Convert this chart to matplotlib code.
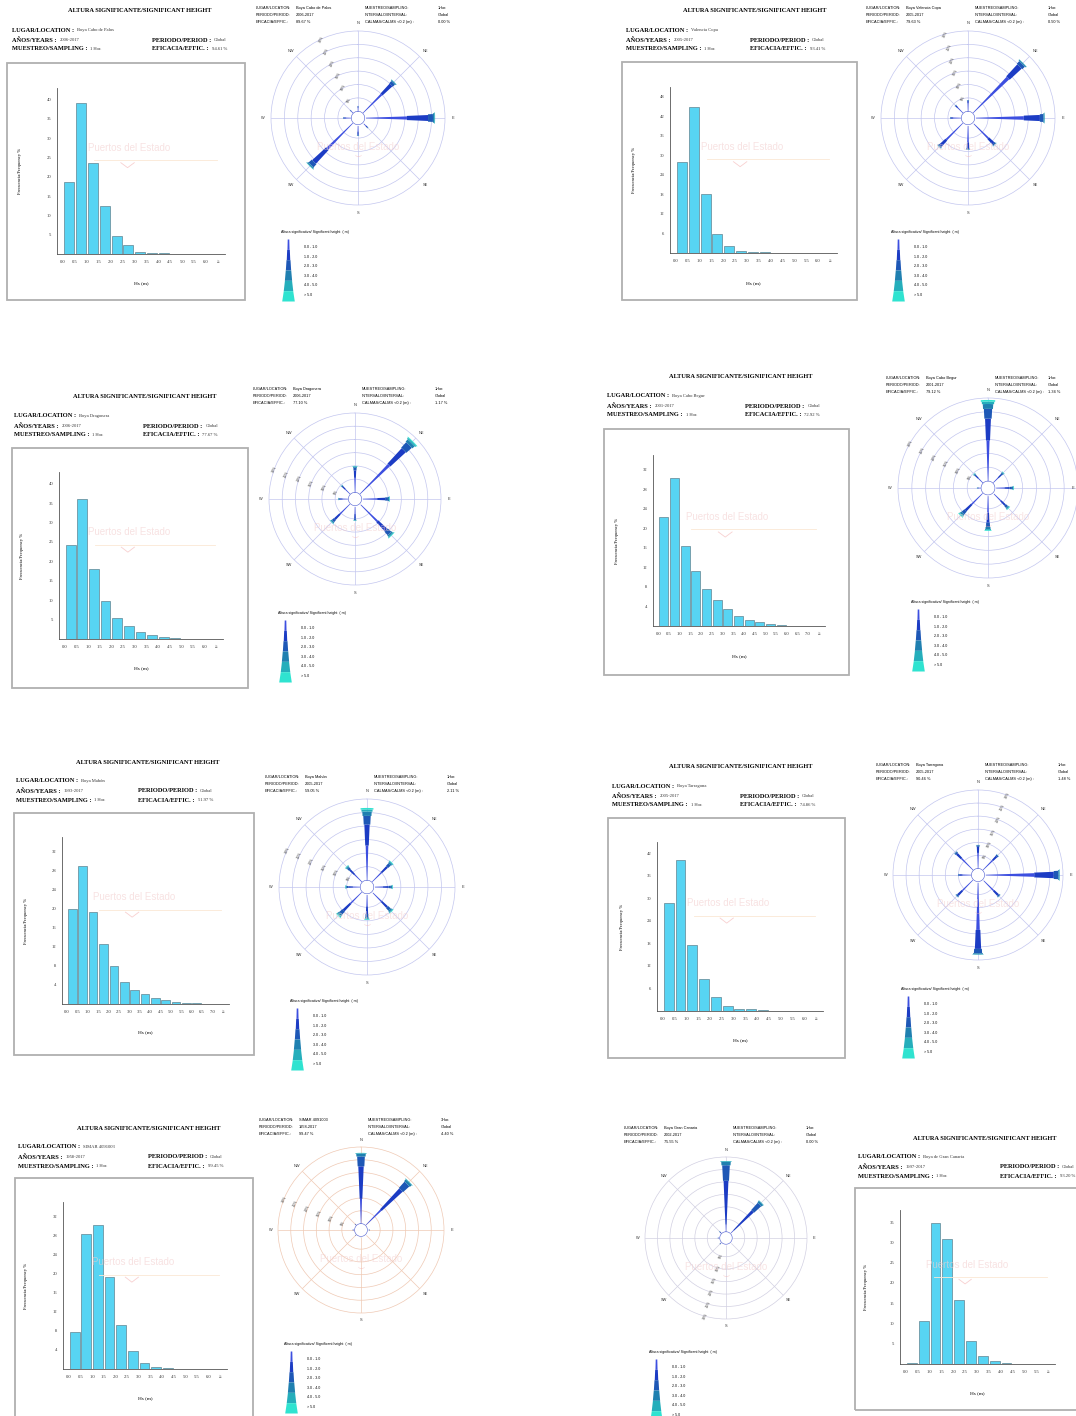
import numpy as np
import matplotlib
matplotlib.use('Agg')
import matplotlib.pyplot as plt
from matplotlib.patches import Rectangle

W, H = 1076, 1416
SERIF = ['Liberation Serif', 'DejaVu Serif']
SANS = ['Liberation Sans', 'DejaVu Sans']

# ---- histogram data: frequency % per 0.5 m Hs bin ----
hist_palos = [18.6, 39.2, 23.5, 12.5, 4.6, 2.3, 0.6, 0.3, 0.15, 0.08, 0.05, 0.03, 0.02]
hist_valencia = [28.0, 45.0, 18.2, 5.9, 2.0, 0.6, 0.4, 0.2, 0.1, 0.05, 0.03, 0.02, 0.01]
hist_dragonera = [24.2, 36.0, 17.9, 9.7, 5.5, 3.3, 1.9, 1.1, 0.5, 0.25, 0.1, 0.05, 0.02]
hist_begur = [22.3, 30.3, 16.4, 11.3, 7.6, 5.4, 3.5, 2.1, 1.3, 0.8, 0.4, 0.2, 0.1, 0.05, 0.02]
hist_mahon = [19.9, 28.9, 19.2, 12.5, 8.0, 4.6, 3.0, 2.0, 1.3, 0.8, 0.4, 0.25, 0.15, 0.1, 0.05]
hist_tarragona = [28.7, 40.3, 17.7, 8.5, 3.7, 1.4, 0.6, 0.4, 0.15, 0.1, 0.05, 0.03, 0.02]
hist_simar = [7.8, 28.2, 30.1, 19.3, 9.2, 3.7, 1.25, 0.4, 0.15, 0.05, 0.03, 0.02, 0.01]
hist_canaria = [0.2, 10.5, 34.9, 30.9, 15.7, 5.7, 2.0, 0.8, 0.3, 0.1, 0.05, 0.02]

edges_60 = ['0.0', '0.5', '1.0', '1.5', '2.0', '2.5', '3.0', '3.5', '4.0', '4.5', '5.0', '5.5', '6.0', '≥']
edges_70 = ['0.0', '0.5', '1.0', '1.5', '2.0', '2.5', '3.0', '3.5', '4.0', '4.5', '5.0', '5.5', '6.0', '6.5', '7.0', '≥']
edges_55 = ['0.0', '0.5', '1.0', '1.5', '2.0', '2.5', '3.0', '3.5', '4.0', '4.5', '5.0', '5.5', '≥']

yt_5_40 = [5, 10, 15, 20, 25, 30, 35, 40]
yt_6_48 = [6, 12, 18, 24, 30, 36, 42, 48]
yt_4_32 = [4, 8, 12, 16, 20, 24, 28, 32]
yt_6_42 = [6, 12, 18, 24, 30, 36, 42]
yt_5_35 = [5, 10, 15, 20, 25, 30, 35]

# ---- rose data: % per direction (N, NE, E, SE, S, SW, W, NW) ----
directions = ['N', 'NE', 'E', 'SE', 'S', 'SW', 'W', 'NW']
bearings = [0, 45, 90, 135, 180, 225, 270, 315]
rose_palos = [2.0, 16.6, 26.3, 2.7, 4.2, 23.0, 3.1, 1.6]
rose_valencia = [4.2, 26.6, 26.2, 11.7, 9.4, 12.8, 4.2, 4.2]
rose_dragonera = [10.0, 28.4, 10.7, 17.1, 5.8, 10.0, 3.9, 4.7]
rose_begur = [29.3, 5.4, 6.9, 8.0, 13.0, 11.6, 1.5, 4.7]
rose_mahon = [26.7, 10.4, 7.1, 10.4, 9.7, 12.6, 5.6, 8.2]
rose_tarragona = [9.0, 8.2, 28.8, 9.0, 28.0, 9.0, 5.1, 9.7]
rose_simar = [27.7, 24.2, 1.0, 0.4, 0.4, 0.6, 0.8, 0.8]
rose_canaria = [28.4, 17.6, 0.3, 0.2, 0.3, 1.0, 0.8, 1.2]

# share of each petal by Hs class (0-1, 1-2, 2-3, 3-4, 4-5, >5 m)
share_palos = [0.60, 0.30, 0.07, 0.02, 0.01, 0.0]
share_valencia = [0.70, 0.23, 0.05, 0.015, 0.005, 0.0]
share_dragonera = [0.55, 0.28, 0.10, 0.04, 0.02, 0.01]
share_begur = [0.50, 0.27, 0.12, 0.06, 0.03, 0.02]
share_mahon = [0.48, 0.29, 0.12, 0.06, 0.03, 0.02]
share_tarragona = [0.66, 0.26, 0.06, 0.015, 0.005, 0.0]
share_simar = [0.35, 0.46, 0.14, 0.04, 0.01, 0.0]
share_canaria = [0.10, 0.62, 0.22, 0.05, 0.01, 0.0]

class_labels = ['0.0 - 1.0', '1.0 - 2.0', '2.0 - 3.0', '3.0 - 4.0', '4.0 - 5.0', '> 5.0']
class_colors = ['#3d4fe0', '#1c3cc4', '#1e58b6', '#1f80b0', '#25aebb', '#2fe3d0']
class_widths = [0.065, 0.085, 0.105, 0.125, 0.145, 0.165]

fig = plt.figure(figsize=(W / 100, H / 100), dpi=100)
fig.patch.set_facecolor('white')
renderer = fig.canvas.get_renderer()


def px_axes(x0, y0, x1, y1, **kw):
    return fig.add_axes([x0 / W, 1 - y1 / H, (x1 - x0) / W, (y1 - y0) / H], **kw)


def ftext(x, y, s, **kw):
    return fig.text(x / W, 1 - y / H, s, **kw)


def label_value(x, y, label, value):
    t = ftext(x, y, label, fontsize=4.6, fontweight='bold', family=SERIF, va='center')
    bb = t.get_window_extent(renderer)
    ftext(bb.x1 + 3, y, value, fontsize=3.3, family=SERIF, va='center', color='#333333')


def draw_hist(box, axbox, title_x, title_y, head_y, col1, col2, ylab_x, xlab_y,
              loc, years, eff, values, edges, yticks, ytop):
    x0, y0, x1, y1 = box
    fig.patches.append(Rectangle((x0 / W, 1 - y1 / H), (x1 - x0) / W, (y1 - y0) / H,
                                 transform=fig.transFigure, fill=False,
                                 ec='#b0b0b0', lw=1.3))
    ftext(title_x, title_y, 'ALTURA SIGNIFICANTE/SIGNIFICANT HEIGHT', ha='center', va='center',
          fontsize=4.6, fontweight='bold', family=SERIF)
    label_value(col1, head_y, 'LUGAR/LOCATION :', loc)
    label_value(col1, head_y + 10, 'AÑOS/YEARS :', years)
    label_value(col1, head_y + 19, 'MUESTREO/SAMPLING :', '1 Hor.')
    label_value(col2, head_y + 10, 'PERIODO/PERIOD :', 'Global')
    label_value(col2, head_y + 19, 'EFICACIA/EFFIC. :', eff)

    ax = px_axes(*axbox)
    n = len(values)
    ax.bar(np.arange(n) + 0.5, values, width=0.84, color='#57d4f3',
           edgecolor='#4d6b78', linewidth=0.4, zorder=3)
    ax.set_xticks(np.arange(n + 1))
    ax.set_xticklabels(edges, family=SERIF)
    ax.set_xlim(-0.5, n + 0.6)
    ax.set_yticks(yticks)
    ax.set_yticklabels([str(v) for v in yticks], family=SERIF)
    ax.set_ylim(0, ytop)
    for s in ['top', 'right']:
        ax.spines[s].set_visible(False)
    for s in ['left', 'bottom']:
        ax.spines[s].set_color('#555555')
        ax.spines[s].set_linewidth(0.6)
    ax.tick_params(labelsize=3.3, length=0, pad=4, colors='#333333')
    # faint watermark
    ax.text(0.43, 0.64, 'Puertos del Estado', transform=ax.transAxes, ha='center', va='center',
            fontsize=7, color='#f3cfcf', alpha=0.6, family=SANS, zorder=4)
    ax.plot([0.22, 0.95], [0.565, 0.565], transform=ax.transAxes, color='#fbe8d4', lw=0.6, zorder=4)
    ax.plot([0.38, 0.42, 0.46], [0.55, 0.52, 0.55], transform=ax.transAxes, color='#f5bcbc',
            lw=0.6, alpha=0.7, zorder=4)

    ax_mid = (axbox[0] + axbox[2]) / 2
    ftext(ax_mid, xlab_y, 'Hs (m)', ha='center', va='center', fontsize=3.8, family=SERIF)
    ftext(ylab_x, (axbox[1] + axbox[3]) / 2, 'Frecuencia/Frequency %', ha='center', va='center',
          rotation=90, fontsize=3.3, family=SERIF)


def draw_rose(cx, cy, R, petals, shares, ring_color, ring_bearing,
              loc, period, eff, sampling, calms, col3=80):
    calm = 2.5
    rmax = 32.5
    # header
    hs = 2.8
    ftext(cx - 102, cy - 110, 'LUGAR/LOCATION:', fontsize=hs, family=SANS, va='center')
    ftext(cx - 62, cy - 110, loc, fontsize=hs, family=SANS, va='center')
    ftext(cx - 102, cy - 103, 'PERIODO/PERIOD:', fontsize=hs, family=SANS, va='center')
    ftext(cx - 62, cy - 103, period, fontsize=hs, family=SANS, va='center')
    ftext(cx - 102, cy - 96, 'EFICACIA/EFFIC.:', fontsize=hs, family=SANS, va='center')
    ftext(cx - 62, cy - 96, eff, fontsize=hs, family=SANS, va='center')
    ftext(cx + 7, cy - 110, 'MUESTREO/SAMPLING:', fontsize=hs, family=SANS, va='center')
    ftext(cx + col3, cy - 110, sampling, fontsize=hs, family=SANS, va='center')
    ftext(cx + 7, cy - 103, 'INTERVALO/INTERVAL:', fontsize=hs, family=SANS, va='center')
    ftext(cx + col3, cy - 103, 'Global', fontsize=hs, family=SANS, va='center')
    ftext(cx + 7, cy - 96, 'CALMAS/CALMS <0.2 (m) :', fontsize=hs, family=SANS, va='center')
    ftext(cx + col3, cy - 96, calms, fontsize=hs, family=SANS, va='center')

    ax = px_axes(cx - R, cy - R, cx + R, cy + R, projection='polar')
    ax.set_theta_zero_location('N')
    ax.set_theta_direction(-1)
    ax.set_ylim(0, rmax)
    ax.set_yticks([calm + 5 * k for k in range(1, 6)])
    ax.set_yticklabels([])
    ax.set_xticks(np.deg2rad(bearings))
    ax.set_xticklabels([])
    ax.grid(color=ring_color, lw=0.5)
    ax.spines['polar'].set_color(ring_color)
    ax.spines['polar'].set_linewidth(0.5)

    theta = np.deg2rad(bearings)
    bottom = np.full(len(petals), calm)
    for k in range(len(class_colors)):
        seg = np.array(petals) * shares[k]
        ax.bar(theta, seg, width=class_widths[k], bottom=bottom, color=class_colors[k],
               linewidth=0, zorder=3)
        bottom = bottom + seg
    tt = np.linspace(0, 2 * np.pi, 100)
    ax.fill_between(tt, 0, calm, color='white', zorder=4)
    ax.plot(tt, np.full(100, calm), color='#4a5ad0', lw=0.4, zorder=5)

    for d, b in zip(directions, bearings):
        lx = cx + R * 1.09 * np.sin(np.deg2rad(b))
        ly = cy - R * 1.09 * np.cos(np.deg2rad(b))
        if lx > W - 5:
            # keep the label inside the picture at the right edge
            ftext(W - 2, ly, d, ha='right', va='center', fontsize=2.8, family=SANS, color='#333333')
        else:
            ftext(lx, ly, d, ha='center', va='center', fontsize=2.8, family=SANS, color='#333333')
    for k in range(1, 7):
        ax.text(np.deg2rad(ring_bearing), calm + 5 * k, '%d%%' % (5 * k), ha='center', va='center',
                fontsize=2.6, family=SANS, rotation=65, color='#333333', zorder=6)

    ftext(cx, cy + 29, 'Puertos del Estado', ha='center', va='center', fontsize=7,
          color='#f3cfcf', family=SANS, alpha=0.55)
    ftext(cx, cy + 41, '︶', ha='center', va='center', fontsize=5, color='#f3b0b0',
          family=['DejaVu Sans', 'Noto Sans CJK JP'], alpha=0.5)

    # legend wedge
    ftext(cx - 77, cy + 114, 'Altura significativa/ Significant height  ( m)', fontsize=2.6,
          family=SANS, va='center')
    lax = px_axes(cx - 77, cy + 121, cx - 63, cy + 183)
    half = [0.15, 0.25, 0.38, 0.52, 0.68, 0.9]
    for k in range(len(class_colors)):
        lax.fill_betweenx([k, k + 1], [-half[k] * 0.75, -half[k]], [half[k] * 0.75, half[k]],
                          color=class_colors[k], lw=0)
        ftext(cx - 54, cy + 129 + 9.6 * k, class_labels[k], fontsize=2.6, family=SANS, va='center')
    lax.set_ylim(6, 0)
    lax.set_xlim(-1, 1)
    lax.axis('off')


# ---- row 1 ----
draw_hist((7, 63, 245, 300), (57, 88, 225, 254), 140, 10, 30, 12, 152, 20, 283,
          'Boya Cabo de Palos', '2006-2017', '94.61 %', hist_palos, edges_60, yt_5_40, 43)
draw_rose(358, 118, 87, rose_palos, share_palos, '#c3c6ef', 335,
          'Boya Cabo de Palos', '2006-2017', '89.67 %', '1Hor.', '0.00 %')
draw_hist((622, 62, 857, 300), (670, 87, 837, 253), 755, 10, 30, 626, 750, 634, 283,
          'Valencia Copa', '2005-2017', '93.41 %', hist_valencia, edges_60, yt_6_48, 51)
draw_rose(968, 118, 87, rose_valencia, share_valencia, '#c3c6ef', 345,
          'Boya Valencia Copa', '2005-2017', '79.63 %', '1Hor.', '0.50 %')

# ---- row 2 ----
draw_hist((12, 448, 248, 688), (59, 472, 223, 639), 145, 397, 416, 14, 143, 22, 668,
          'Boya Dragonera', '2006-2017', '77.67 %', hist_dragonera, edges_60, yt_5_40, 43)
draw_rose(355, 499, 86, rose_dragonera, share_dragonera, '#c3c6ef', 290,
          'Boya Dragonera', '2006-2017', '77.10 %', '1Hor.', '1.17 %')
draw_hist((604, 429, 849, 675), (653, 455, 825, 626), 741, 377, 396, 607, 745, 617, 656,
          'Boya Cabo Begur', '2001-2017', '72.92 %', hist_begur, edges_70, yt_4_32, 35)
draw_rose(988, 488, 90, rose_begur, share_begur, '#c3c6ef', 300,
          'Boya Cabo Begur', '2001-2017', '79.12 %', '1Hor.', '1.34 %', col3=60)

# ---- row 3 ----
draw_hist((14, 813, 254, 1055), (62, 837, 229, 1004), 148, 762, 781, 16, 138, 26, 1032,
          'Boya Mahón', '1993-2017', '51.97 %', hist_mahon, edges_70, yt_4_32, 35)
draw_rose(367, 887, 88, rose_mahon, share_mahon, '#c3c6ef', 295,
          'Boya Mahón', '2005-2017', '59.05 %', '1Hor.', '2.11 %')
draw_hist((608, 818, 845, 1058), (657, 842, 823, 1011), 741, 766, 786, 612, 740, 622, 1040,
          'Boya Tarragona', '2005-2017', '74.86 %', hist_tarragona, edges_60, yt_6_42, 45)
draw_rose(978, 875, 85, rose_tarragona, share_tarragona, '#c3c6ef', 20,
          'Boya Tarragona', '2005-2017', '90.46 %', '1Hor.', '1.48 %')

# ---- row 4 ----
draw_hist((15, 1178, 253, 1420), (63, 1202, 227, 1369), 149, 1128, 1147, 18, 148, 26, 1398,
          'SIMAR 4091003', '1958-2017', '99.45 %', hist_simar, edges_60, yt_4_32, 35)
draw_rose(361, 1230, 83, rose_simar, share_simar, '#efc9b4', 292,
          'SIMAR 4091003', '1958-2017', '99.47 %', '3Hor.', '4.40 %')
draw_rose(726, 1238, 81, rose_canaria, share_canaria, '#d2d0e2', 195,
          'Boya Gran Canaria', '2002-2017', '75.55 %', '1Hor.', '0.00 %')
draw_hist((855, 1188, 1095, 1410), (900, 1210, 1055, 1364), 985, 1138, 1157, 858, 1000, 866, 1393,
          'Boya de Gran Canaria', '1997-2017', '93.20 %', hist_canaria, edges_55, yt_5_35, 38)

fig.savefig('out.png', dpi=100, facecolor='white')
